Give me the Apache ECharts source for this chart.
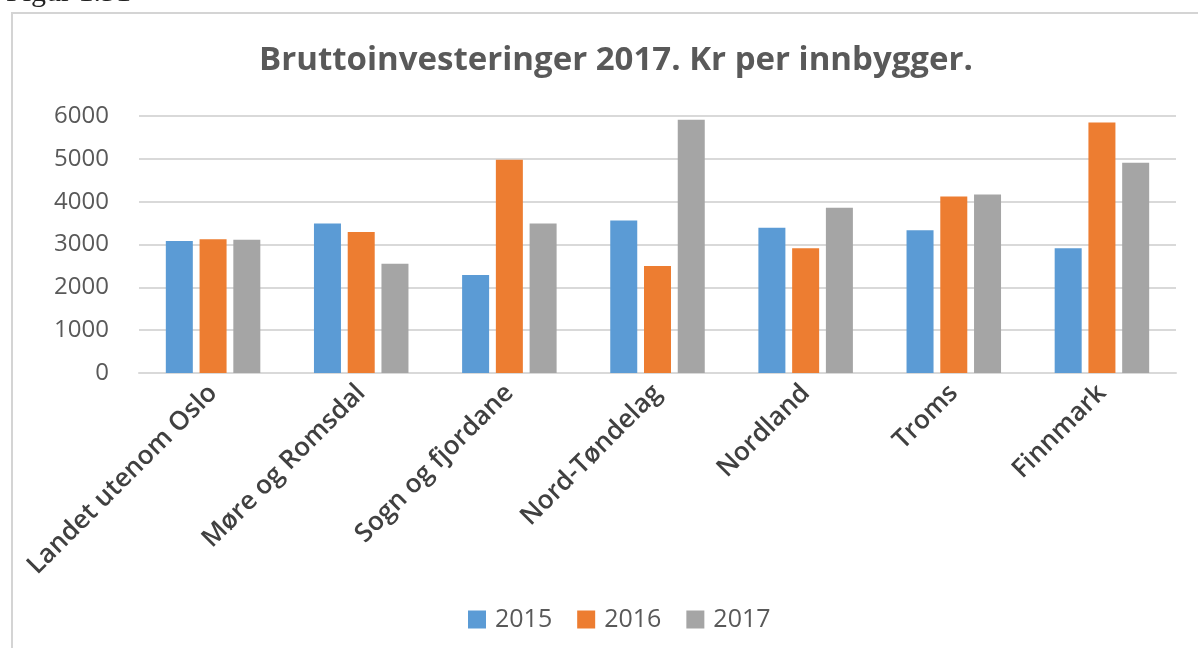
<!DOCTYPE html>
<html>
<head>
<meta charset="utf-8">
<script src="https://cdn.jsdelivr.net/npm/echarts@6/dist/echarts.min.js"></script>
<style>
  html, body { margin: 0; padding: 0; background: #fff; }
  #chart { width: 1198px; height: 648px; }
</style>
</head>
<body>
<div id="chart"></div>
<script>
// data
const categories = ['Landet utenom Oslo', 'Møre og Romsdal', 'Sogn og fjordane', 'Nord-Tøndelag', 'Nordland', 'Troms', 'Finnmark'];
const years = ['2015', '2016', '2017'];
const values2015 = [3080, 3490, 2290, 3560, 3390, 3330, 2910];
const values2016 = [3120, 3290, 4980, 2500, 2910, 4120, 5850];
const values2017 = [3110, 2550, 3490, 5910, 3860, 4170, 4910];
const colors = ['#5B9BD5', '#ED7D31', '#A5A5A5'];

const textColor = '#595959';
const font = '"Open Sans", Lato, sans-serif';

let chart = echarts.init(document.getElementById('chart'));
let option = {
  backgroundColor: '#fff',
  color: colors,
  title: {
    text: 'Bruttoinvesteringer 2017. Kr per innbygger.',
    left: 611,
    textAlign: 'center',
    top: 39,
    textStyle: { color: textColor, fontFamily: font, fontSize: 33, fontWeight: 'bold' }
  },
  graphic: [
    {
      type: 'rect',
      shape: { x: 12, y: 13, width: 1220, height: 700 },
      style: { fill: 'none', stroke: '#d4d4d4', lineWidth: 2 },
      silent: true
    },
    {
      type: 'text',
      left: 6,
      top: -22,
      style: { text: 'Figur 1.31', font: '30px "Liberation Serif", serif', fill: '#222' },
      silent: true
    }
  ],
  legend: {
    data: years,
    top: 602,
    left: 463,
    itemWidth: 18,
    itemHeight: 18,
    itemGap: 25,
    icon: 'rect',
    textStyle: { color: textColor, fontFamily: font, fontSize: 25, padding: [0, 0, 0, 4] }
  },
  grid: { left: 139, right: 22, top: 116, bottom: 275 },
  xAxis: {
    type: 'category',
    data: categories,
    axisLine: { lineStyle: { color: '#d9d9d9', width: 2 } },
    axisTick: { show: false },
    axisLabel: {
      rotate: 45,
      interval: 0,
      margin: 16,
      color: '#404040',
      fontFamily: font,
      fontWeight: 600,
      fontSize: 26
    }
  },
  yAxis: {
    type: 'value',
    min: 0,
    max: 6000,
    interval: 1000,
    axisLine: { show: false },
    axisTick: { show: false },
    splitLine: { lineStyle: { color: '#d9d9d9', width: 2 } },
    axisLabel: {
      color: textColor, fontFamily: font, fontSize: 24, margin: 30,
      formatter: function (v) { return String(v); }
    }
  },
  series: [
    { name: years[0], type: 'bar', data: values2015, barWidth: 27, barGap: '25%' },
    { name: years[1], type: 'bar', data: values2016, barWidth: 27, barGap: '25%' },
    { name: years[2], type: 'bar', data: values2017, barWidth: 27, barGap: '25%' }
  ]
};
chart.setOption(option);
</script>
</body>
</html>
